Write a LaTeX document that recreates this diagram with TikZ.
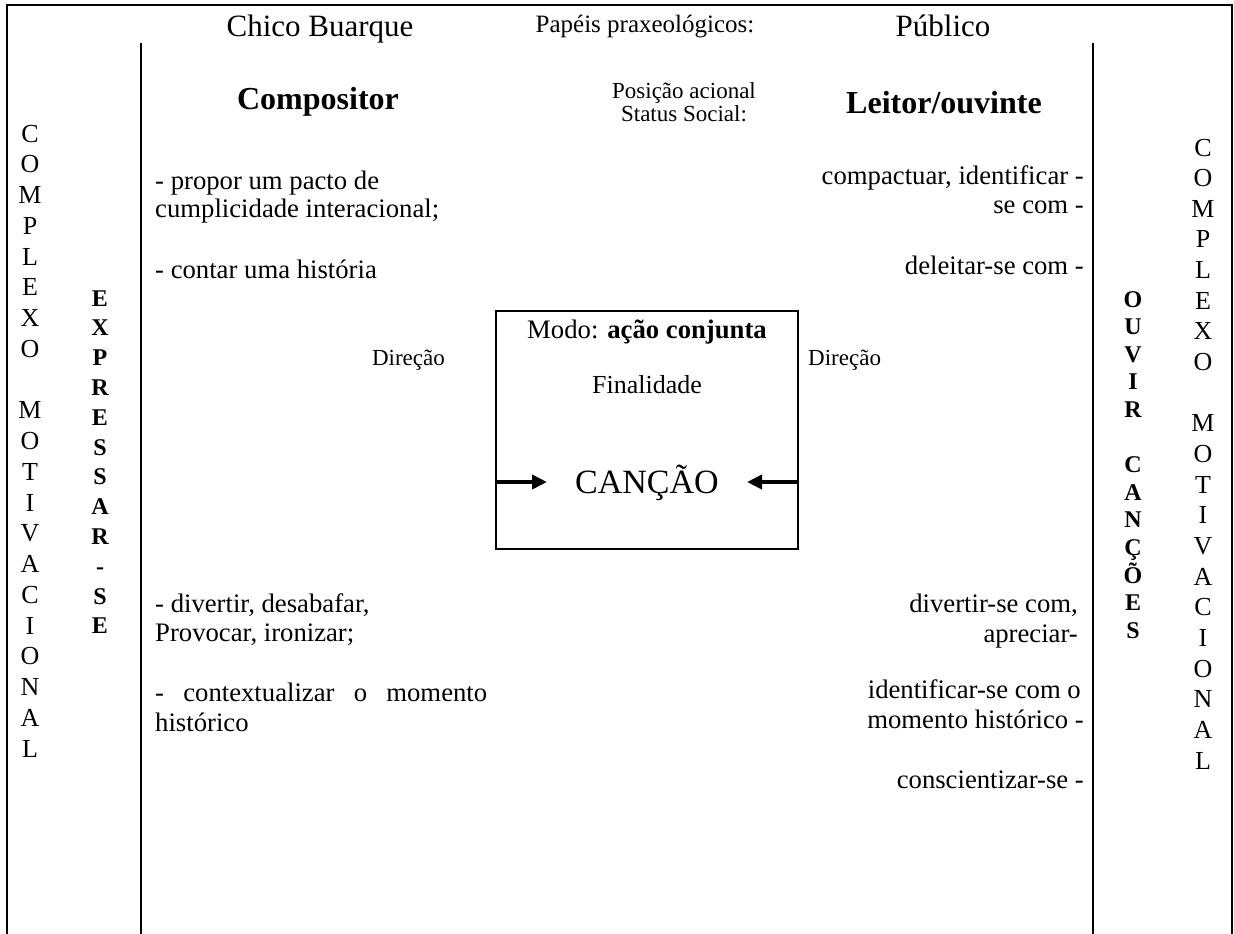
\documentclass[tikz,border=0pt]{standalone}
\usepackage{fontspec}
\setmainfont{Liberation Serif}
\usetikzlibrary{arrows.meta}

\tikzset{
  rule/.style={line width=2.4pt, line join=miter},
  boxrule/.style={line width=2pt},
  flow/.style={line width=4pt, -{Triangle[length=15pt,width=14pt]}},
  txt/.style={inner sep=0pt, anchor=base},
  body/.style={txt, font=\fontsize{26.7}{30.7}\selectfont},
  small/.style={txt, font=\fontsize{23}{26}\selectfont},
  title/.style={txt, font=\fontsize{31}{35}\selectfont},
  role/.style={txt, font=\bfseries\fontsize{32}{36}\selectfont},
  vletter/.style={txt, font=\fontsize{26}{30}\selectfont},
  vbold/.style={txt, font=\bfseries\fontsize{24}{28}\selectfont},
}

\begin{document}
\begin{tikzpicture}[x=1pt,y=-1pt]
\useasboundingbox (0,0) rectangle (1234,934);

% outer frame (open at the bottom) and the two inner column rules
\draw[rule] (7,934) -- (7,5) -- (1232,5) -- (1232,934);
\draw[rule] (141,43) -- (141,934);
\draw[rule] (1093,43) -- (1093,934);

% header row
\node[title] (chico) at (320,37) {Chico Buarque};
\node[txt, font=\fontsize{25}{28}\selectfont] (papeis) at (645,33) {Papéis praxeológicos:};
\node[title] (publico) at (943,37) {Público};

\node[role] (comp) at (318,110) {Compositor};
\node[role] (leitor) at (944,113) {Leitor/ouvinte};
\node[small] (posicao) at (684,98) {Posição acional};
\node[small] (status) at (684,121) {Status Social:};

% outer vertical labels
\foreach \ch [count=\i] in {C,O,M,P,L,E,X,O,{},M,O,T,I,V,A,C,I,O,N,A,L}
  \node[vletter] (cl\i) at (30,{142+(\i-1)*30.75}) {\ch};
\foreach \ch [count=\i] in {C,O,M,P,L,E,X,O,{},M,O,T,I,V,A,C,I,O,N,A,L}
  \node[vletter] (cr\i) at (1203,{156+(\i-1)*30.65}) {\ch};

% inner vertical labels
\foreach \ch [count=\i] in {E,X,P,R,E,S,S,A,R,-,S,E}
  \node[vbold] (ex\i) at (100,{306+(\i-1)*29.8}) {\ch};
\foreach \ch [count=\i] in {O,U,V,I,R,{},C,A,N,Ç,Õ,E,S}
  \node[vbold] (ou\i) at (1133,{307+(\i-1)*27.6}) {\ch};

% composer side
\node[body, anchor=base west] (l1) at (155,189) {- propor um pacto de};
\node[body, anchor=base west] (l2) at (155,217) {cumplicidade interacional;};
\node[body, anchor=base west] (l3) at (155,278) {- contar uma história};
\node[body, anchor=base west] (l4) at (155,612) {- divertir, desabafar,};
\node[body, anchor=base west] (l5) at (155,641) {Provocar, ironizar;};
\node[body, anchor=base west] (l6) at (155,701) {\makebox[332pt][s]{- contextualizar o momento}};
\node[body, anchor=base west] (l7) at (155,731) {histórico};

% audience side
\node[body, anchor=base east] (r1) at (1084,184) {compactuar, identificar -};
\node[body, anchor=base east] (r2) at (1084,213) {se com -};
\node[body, anchor=base east] (r3) at (1084,274) {deleitar-se com -};
\node[body, anchor=base east] (r4) at (1078,612) {divertir-se com,};
\node[body, anchor=base east] (r5) at (1078,642) {apreciar-};
\node[body, anchor=base east] (r6) at (1081,698) {identificar-se com o};
\node[body, anchor=base east] (r7) at (1084,728) {momento histórico -};
\node[body, anchor=base east] (r8) at (1084,788) {conscientizar-se -};

% direction labels
\node[small, anchor=base east] (dirl) at (445,365) {Direção};
\node[small, anchor=base west] (dirr) at (808,365) {Direção};

% central box
\node[draw, boxrule, inner sep=0pt, minimum width=302pt, minimum height=238pt] (box) at (647,430) {};
\node[body] (modo) at (647,338) {Modo: \textbf{ação conjunta}};
\node[txt, font=\fontsize{26}{30}\selectfont] (fin) at (647,393) {Finalidade};
\node[txt, font=\fontsize{34}{38}\selectfont] (cancao) at (647,493) {CANÇÃO};

\coordinate (lt) at (547,482);
\coordinate (rt) at (747,482);
\draw[flow] (box.west |- lt) -- (lt);
\draw[flow] (box.east |- rt) -- (rt);
\end{tikzpicture}
\end{document}
